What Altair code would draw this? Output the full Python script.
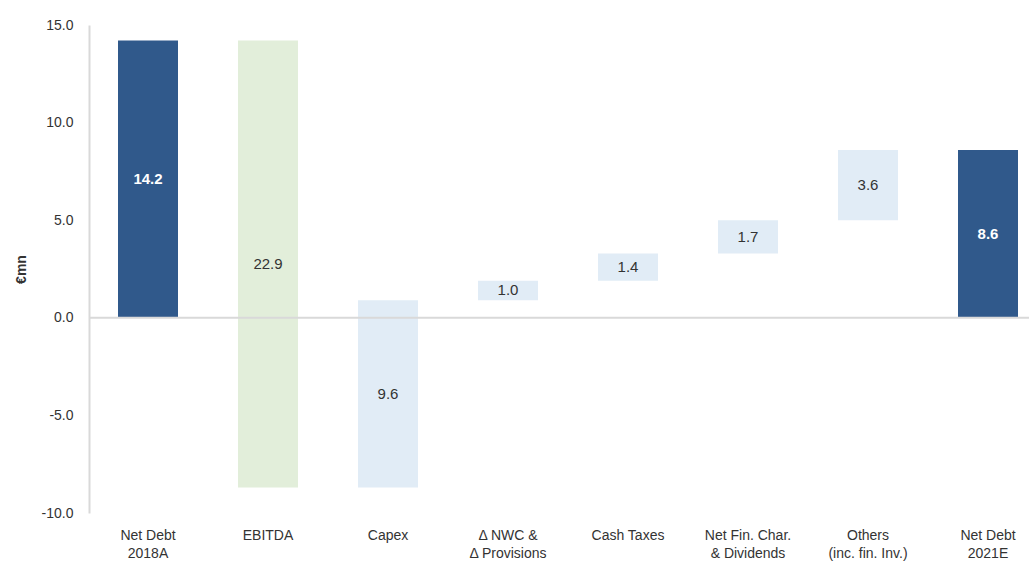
import altair as alt
import pandas as pd

categories = ["Net Debt|2018A", "EBITDA", "Capex", "Δ NWC &|Δ Provisions",
              "Cash Taxes", "Net Fin. Char.|& Dividends", "Others|(inc. fin. Inv.)", "Net Debt|2021E"]
changes = [14.2, -22.9, 9.6, 1.0, 1.4, 1.7, 3.6]
total = 8.6
kinds = ["total", "ebitda", "flow", "flow", "flow", "flow", "flow", "total"]

rows = []
level = 0.0
for cat, ch, k in zip(categories[:-1], changes, kinds[:-1]):
    if k == "total":
        start, end = 0.0, ch
    else:
        start, end = level, level + ch
    level = end
    rows.append(dict(cat=cat, start=start, end=end, label=f"{abs(ch):.1f}", kind=k))
rows.append(dict(cat=categories[-1], start=0.0, end=total, label=f"{total:.1f}", kind="total"))
df = pd.DataFrame(rows)
df["mid"] = (df["start"] + df["end"]) / 2

xscale = alt.Scale(domain=categories, paddingInner=0.5, paddingOuter=1/6, align=0.725)
yscale = alt.Scale(domain=[-10, 15], nice=False, zero=False)

x = alt.X("cat:N", scale=xscale, sort=categories, title=None,
          axis=alt.Axis(labelExpr="split(datum.label, '|')", labelAngle=0, domain=False, ticks=False,
                        labelPadding=15, labelFontSize=14, labelColor="#333333",
                        labelFont="Liberation Sans", labelLineHeight=18))

base = alt.Chart(df)

bars = base.mark_bar().encode(
    x=x,
    y=alt.Y("start:Q", scale=yscale, title="€mn",
            axis=alt.Axis(values=[-10, -5, 0, 5, 10, 15], grid=False, ticks=False,
                          labelExpr="replace(format(datum.value, '.1f'), '\u2212', '-')",
                          domainColor="#d9d9d9", domainWidth=2, labelPadding=16,
                          labelFontSize=14, labelColor="#333333", labelFont="Liberation Sans",
                          titleFont="Liberation Sans", titleFontSize=14, titleFontWeight="bold",
                          titleColor="#333333", titlePadding=13)),
    y2="end:Q",
    color=alt.Color("kind:N", scale=alt.Scale(domain=["total", "ebitda", "flow"],
                                              range=["#30598B", "#E2EEDA", "#E1ECF6"]), legend=None),
)

zero = alt.Chart(pd.DataFrame({"z": [0]})).mark_rule(color="#d9d9d9", strokeWidth=2).encode(
    y=alt.Y("z:Q", scale=yscale))

texts_dark = base.transform_filter("datum.kind != 'total'").mark_text(
    font="Liberation Sans", fontSize=15, color="#333333", baseline="middle").encode(
    x=alt.X("cat:N", scale=xscale, sort=categories), y=alt.Y("mid:Q", scale=yscale), text="label:N")

texts_white = base.transform_filter("datum.kind == 'total'").mark_text(
    font="Liberation Sans", fontSize=15, color="white", fontWeight="bold", baseline="middle").encode(
    x=alt.X("cat:N", scale=xscale, sort=categories), y=alt.Y("mid:Q", scale=yscale), text="label:N")

chart = alt.layer(bars, zero, texts_dark, texts_white).properties(
    width=940, height=488,
    padding={"left": 89, "top": 25, "right": 0, "bottom": 50},
    autosize=alt.AutoSizeParams(type="none"),
).configure_view(stroke=None)

chart.save("out.html", embed_options={"renderer": "svg", "actions": False})
